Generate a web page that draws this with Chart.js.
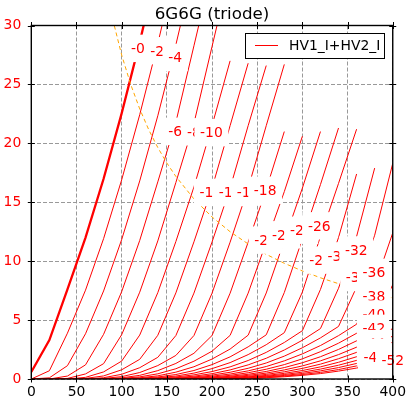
<!DOCTYPE html>
<html><head><meta charset="utf-8">
<script src="https://cdn.jsdelivr.net/npm/chart.js@4.4.0/dist/chart.umd.min.js"></script>
<style>html,body{margin:0;padding:0;background:#fff;}canvas{display:block;}</style>
</head><body>
<canvas id="c" width="411" height="399"></canvas>
<script>
// ---- data (plate voltage in V, plate current in mA) ----
const plateVoltage = [0,20,40,60,80,100,120,140,160,180,200,220,240,260,280,300,320,340,360,380,400];
const gridVoltage = [0,-2,-4,-6,-8,-10,-12,-14,-16,-18,-20,-22,-24,-26,-28,-30,-32,-34,-36,-38,-40,-42,-44,-46,-48,-50,-52];
const ip_g0  = [0.6,3.3,7.61,12.0,16.99,22.54,28.59,35.1,null,null,null,null,null,null,null,null,null,null,null,null,null];
const ip_g2  = [0,0.7,3.89,7.54,11.91,16.9,22.43,28.47,34.97,null,null,null,null,null,null,null,null,null,null,null,null];
const ip_g4  = [0,0.1,1.13,3.84,7.47,11.83,16.81,22.34,28.37,34.86,null,null,null,null,null,null,null,null,null,null,null];
const ip_g6  = [0,0,0.25,1.2,3.79,7.41,11.76,16.73,21.8,28.28,34.76,null,null,null,null,null,null,null,null,null,null];
const ip_g8  = [0,0,0.05,0.43,1.3,3.76,7.37,11.72,16.68,21.7,28.21,34.7,null,null,null,null,null,null,null,null,null];
const ip_g10 = [0,0,0,0.14,0.6,1.52,3.73,7.33,11.67,16.3,21.5,27.0,null,null,null,null,null,null,null,null,null];
const ip_g12 = [0,0,0,0.05,0.26,0.78,1.67,3.71,7.31,11.64,16.2,21.5,26.8,null,null,null,null,null,null,null,null];
const ip_g14 = [0,0,0,0,0.11,0.4,0.96,1.84,3.69,7.29,11.62,16.2,21.5,26.6,null,null,null,null,null,null,null];
const ip_g16 = [0,0,0,0,0.05,0.2,0.55,1.14,2.0,3.69,7.28,11.61,16.2,21.5,26.7,null,null,null,null,null,null];
const ip_g18 = [0,0,0,0,0,0.1,0.31,0.71,1.32,2.18,3.69,7.28,11.61,16.1,21.0,null,null,null,null,null,null];
const ip_g20 = [0,0,0,0,0,0.05,0.18,0.44,0.87,1.51,2.36,3.7,7.29,11.6,15.9,20.6,null,null,null,null,null];
const ip_g22 = [0,0,0,0,0,0.03,0.1,0.27,0.58,1.04,1.69,2.54,3.72,7.3,11.75,16.2,21.0,null,null,null,null];
const ip_g24 = [0,0,0,0,0,0,0.06,0.17,0.38,0.72,1.22,1.88,2.73,3.75,7.34,11.9,16.5,21.3,null,null,null];
const ip_g26 = [0,0,0,0,0,0,0.03,0.11,0.25,0.5,0.88,1.39,2.07,2.91,3.93,7.38,12.1,16.6,21.2,null,null];
const ip_g28 = [0,0,0,0,0,0,0,0.07,0.17,0.35,0.63,1.03,1.57,2.26,3.1,4.1,7.6,12.0,17.4,null,null];
const ip_g30 = [0,0,0,0,0,0,0,0.04,0.11,0.24,0.45,0.77,1.2,1.76,2.46,3.29,4.28,7.7,12.1,17.9,null];
const ip_g32 = [0,0,0,0,0,0,0,0,0.07,0.17,0.33,0.57,0.91,1.36,1.94,2.65,3.49,4.46,7.8,12.2,18.3];
const ip_g34 = [0,0,0,0,0,0,0,0,0.05,0.12,0.24,0.42,0.69,1.06,1.54,2.13,2.84,3.68,4.65,7.9,12.4];
const ip_g36 = [0,0,0,0,0,0,0,0,0,0.08,0.17,0.31,0.53,0.83,1.22,1.71,2.32,3.04,3.88,4.84,8.0];
const ip_g38 = [0,0,0,0,0,0,0,0,0,0.06,0.12,0.23,0.4,0.64,0.97,1.38,1.89,2.51,3.24,4.08,5.03];
const ip_g40 = [0,0,0,0,0,0,0,0,0,0,0.09,0.17,0.31,0.5,0.77,1.11,1.54,2.07,2.7,3.44,4.28];
const ip_g42 = [0,0,0,0,0,0,0,0,0,0,0.06,0.13,0.23,0.39,0.61,0.9,1.26,1.72,2.26,2.9,3.64];
const ip_g44 = [0,0,0,0,0,0,0,0,0,0,0,0.1,0.18,0.3,0.48,0.72,1.03,1.42,1.89,2.45,3.1];
const ip_g46 = [0,0,0,0,0,0,0,0,0,0,0,0.07,0.14,0.24,0.38,0.58,0.84,1.17,1.58,2.07,2.64];
const ip_g48 = [0,0,0,0,0,0,0,0,0,0,0,0,0.1,0.19,0.3,0.47,0.69,0.97,1.32,1.74,2.25];
const ip_g50 = [0,0,0,0,0,0,0,0,0,0,0,0,0.08,0.15,0.24,0.38,0.56,0.8,1.11,1.47,1.91];
const ip_g52 = [0,0,0,0,0,0,0,0,0,0,0,0,0,0.11,0.19,0.31,0.46,0.67,0.93,1.25,1.63];
// max plate dissipation curve (dashed)
const pdV = [90,100,110,120,130,140,150,160,180,200,220,240,260,280,300,320,340,360,380,400];
const pdI = [30.56,27.5,25.0,22.92,21.15,19.64,18.33,17.19,15.28,13.75,12.5,11.46,10.58,9.82,9.17,8.59,8.09,7.64,7.24,6.88];
// curve label anchors (data coordinates)
const labelV = [118.1,139.4,159.3,159.1,180,199.3,198.6,219.9,239.8,258.8,259.3,278.9,298.8,318.7,320.1,340.3,359.6,360.6,379.2,379.2,379.2,379.2,379.2,379.2,380.3,400,400];
const labelI = [28.08,27.88,27.31,21.04,21.0,20.93,15.85,15.85,15.89,16.04,11.81,12.26,12.65,13.02,10.11,10.47,10.97,8.63,9.07,7.09,5.53,4.32,3.03,2.3,1.86,1.9,1.58];
const xTicks = [0,50,100,150,200,250,300,350,400];
const yTicks = [0,5,10,15,20,25,30];
const titleText = '6G6G (triode)';
const legendText = 'HV1_I+HV2_I';

const curves = [ip_g0,ip_g2,ip_g4,ip_g6,ip_g8,ip_g10,ip_g12,ip_g14,ip_g16,ip_g18,ip_g20,ip_g22,ip_g24,ip_g26,ip_g28,ip_g30,ip_g32,ip_g34,ip_g36,ip_g38,ip_g40,ip_g42,ip_g44,ip_g46,ip_g48,ip_g50,ip_g52];
const FONT = 'DejaVu Sans';
const RED = '#ff0000';

const datasets = [];
datasets.push({label:'Pd', data: pdV.map((v,i)=>({x:v,y:pdI[i]})), borderColor:'#ffa500', borderWidth:1, borderDash:[4,3], pointRadius:0, fill:false, tension:0});
curves.forEach((c,k)=>{
  datasets.push({label: k===0 ? legendText : 'g'+gridVoltage[k], data: plateVoltage.map((v,i)=>({x:v,y:c[i]})),
    borderColor: RED, borderWidth: k===0 ? 2.3 : 1, pointRadius:0, fill:false, tension:0, spanGaps:false});
});

const decor = {
  id:'decor',
  afterDatasetsDraw(chart){
    const ctx = chart.ctx, a = chart.chartArea, xs = chart.scales.x, ys = chart.scales.y;
    ctx.save();
    // curve labels with white boxes
    ctx.font = '13.9px "'+FONT+'"';
    ctx.textAlign = 'center'; ctx.textBaseline = 'alphabetic';
    gridVoltage.forEach((g,k)=>{
      const t = g===0 ? '-0' : String(g);
      const px = xs.getPixelForValue(labelV[k]), py = ys.getPixelForValue(labelI[k]);
      const w = ctx.measureText(t).width;
      ctx.fillStyle = '#fff';
      ctx.fillRect(px - w/2 - 5.6, py + 0.25 - 13.7, w + 11.2, 27.4);
      ctx.fillStyle = RED;
      ctx.fillText(t, px, py + 5.05);
    });
    // spines
    ctx.strokeStyle = '#000'; ctx.lineWidth = 1.4; ctx.setLineDash([]);
    ctx.strokeRect(a.left, a.top, a.right - a.left, a.bottom - a.top);
    // tick marks (crossing spines)
    ctx.lineWidth = 1;
    ctx.beginPath();
    xTicks.forEach(v=>{
      const p = Math.round(xs.getPixelForValue(v)) + 0.5;
      ctx.moveTo(p, a.top - 3.5); ctx.lineTo(p, a.top + 3.5);
      ctx.moveTo(p, a.bottom - 3.5); ctx.lineTo(p, a.bottom + 3.5);
    });
    yTicks.forEach(v=>{
      const p = Math.round(ys.getPixelForValue(v)) + 0.5;
      ctx.moveTo(a.left - 3.5, p); ctx.lineTo(a.left + 3.5, p);
      ctx.moveTo(a.right - 3.5, p); ctx.lineTo(a.right + 3.5, p);
    });
    ctx.stroke();
    // legend
    ctx.fillStyle = '#fff'; ctx.fillRect(245, 33, 140, 25);
    ctx.strokeStyle = '#000'; ctx.lineWidth = 1; ctx.strokeRect(245.5, 33.5, 139, 25);
    ctx.strokeStyle = RED; ctx.beginPath(); ctx.moveTo(255, 45.5); ctx.lineTo(278, 45.5); ctx.stroke();
    ctx.fillStyle = '#000'; ctx.textAlign = 'left'; ctx.font = '13.9px "'+FONT+'"';
    ctx.fillText(legendText, 289, 50.3);
    // title
    ctx.textAlign = 'center'; ctx.font = '16.7px "'+FONT+'"';
    ctx.fillText(titleText, (a.left + a.right)/2, 19.3);
    ctx.restore();
  }
};

new Chart(document.getElementById('c'), {
  type:'line',
  data:{datasets},
  options:{
    responsive:false, animation:false, devicePixelRatio:1,
    layout:{padding:{top:25.5, right:17.7, left:0, bottom:0}},
    plugins:{legend:{display:false}, tooltip:{enabled:false}, title:{display:false}},
    scales:{
      x:{type:'linear', min:0, max:400,
         ticks:{stepSize:50, color:'#000', font:{family:FONT, size:13.9}, padding:5, maxRotation:0, autoSkip:false},
         grid:{color:'#999', lineWidth:1, drawTicks:false, borderDash:[4,2]},
         border:{display:false, dash:[4,2]},
         afterFit(s){ s.height = 20; }},
      y:{type:'linear', min:0, max:30,
         ticks:{stepSize:5, color:RED, font:{family:FONT, size:13.9}, padding:10, autoSkip:false},
         grid:{color:'#999', lineWidth:1, drawTicks:false, borderDash:[4,2]},
         border:{display:false, dash:[4,2]},
         afterFit(s){ s.width = 31.3; }}
    }
  },
  plugins:[decor]
});
</script>
</body></html>
